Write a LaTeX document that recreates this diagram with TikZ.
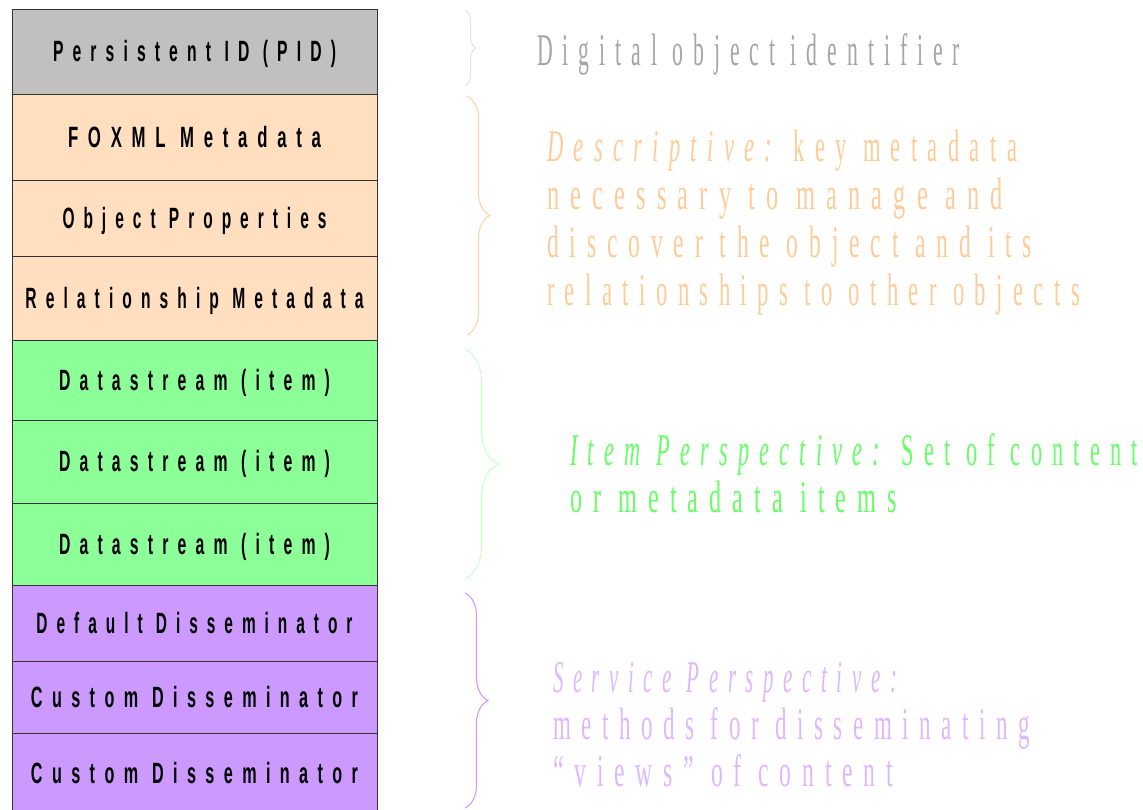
\documentclass[tikz,border=0pt]{standalone}
\usepackage{fontspec}
\usepackage{graphicx}
\usetikzlibrary{decorations.pathreplacing}
\newfontfamily\boxfont[FakeStretch=0.55,LetterSpace=32]{Liberation Sans}
\newfontfamily\descfont[FakeStretch=0.48,LetterSpace=22]{Liberation Serif}
\newdimen\fitlen
\newcommand\fitto[2]{\settowidth\fitlen{#2}\scalebox{\fpeval{#1*0.75/\fitlen}}[1]{#2}}
\definecolor{cgray}{HTML}{C0C0C0}
\definecolor{cpeach}{HTML}{FFDFC0}
\definecolor{cgreen}{HTML}{8CFF99}
\definecolor{cpurple}{HTML}{CC99FF}
\definecolor{tgray}{HTML}{A4A4AA}
\definecolor{tpeach}{HTML}{FFCC99}
\definecolor{tgreen}{HTML}{66FF66}
\definecolor{tpurple}{HTML}{DDB8FF}
\definecolor{bgray}{HTML}{E4E4E4}
\definecolor{bpeach}{HTML}{FFD3A8}
\definecolor{bgreen}{HTML}{CCFFCC}
\definecolor{bpurple}{HTML}{CC99FF}
\tikzset{
  boxst/.style={draw=black!80, line width=0.75pt, minimum width=273.75pt,
    inner sep=0pt, outer sep=0pt, anchor=north west,
    font=\boxfont\bfseries\fontsize{22pt}{22pt}\selectfont,
    text height=15pt, text depth=0pt},
  rt/.style={anchor=base west, inner sep=0pt, outer sep=0pt,
    font=\descfont\fontsize{34pt}{34pt}\selectfont},
  bracest/.style={decorate, line width=0.8pt},
}
\begin{document}
\begin{tikzpicture}[x=0.75pt,y=-0.75pt]
\useasboundingbox (0,0) rectangle (1143,810);
% stacked boxes
\node[boxst, fill=cgray,   minimum height=85*0.75pt] (pid) at (12,9)   {\fitto{283}{Persistent ID (PID)}};
\node[boxst, fill=cpeach,  minimum height=86*0.75pt] (fox) at (12,94)  {\fitto{253}{FOXML Metadata}};
\node[boxst, fill=cpeach,  minimum height=76*0.75pt] (op)  at (12,180) {\fitto{264}{Object Properties}};
\node[boxst, fill=cpeach,  minimum height=84*0.75pt] (rel) at (12,256) {\fitto{338}{Relationship Metadata}};
\node[boxst, fill=cgreen,  minimum height=80*0.75pt] (ds1) at (12,340) {\fitto{271}{Datastream (item)}};
\node[boxst, fill=cgreen,  minimum height=83*0.75pt] (ds2) at (12,420) {\fitto{271}{Datastream (item)}};
\node[boxst, fill=cgreen,  minimum height=82*0.75pt] (ds3) at (12,503) {\fitto{271}{Datastream (item)}};
\node[boxst, fill=cpurple, minimum height=76*0.75pt] (dd)  at (12,585) {\fitto{316}{Default Disseminator}};
\node[boxst, fill=cpurple, minimum height=72*0.75pt] (cd1) at (12,661) {\fitto{327}{Custom Disseminator}};
\node[boxst, fill=cpurple, minimum height=80*0.75pt] (cd2) at (12,733) {\fitto{327}{Custom Disseminator}};
% braces
\coordinate (g1) at (465,10);  \coordinate (g2) at (465,86);
\coordinate (p1) at (467,96);  \coordinate (p2) at (467,335);
\coordinate (e1) at (465,349); \coordinate (e2) at (465,579);
\coordinate (u1) at (465,593); \coordinate (u2) at (465,808);
\draw[bracest, bgray,   decoration={brace, amplitude=8.25pt}]  (g1) -- (g2);
\draw[bracest, bpeach,  decoration={brace, amplitude=17.25pt}] (p1) -- (p2);
\draw[bracest, bgreen,  decoration={brace, amplitude=24.75pt}] (e1) -- (e2);
\draw[bracest, bpurple, decoration={brace, amplitude=17.25pt}] (u1) -- (u2);
% descriptions
\node[rt, text=tgray] (dig) at (537,65) {\fitto{423}{Digital object identifier}};
\node[rt, text=tpeach] (de1) at (547,161) {\fitto{470}{\itshape Descriptive:\upshape{} key metadata}};
\node[rt, text=tpeach] (de2) at (547,209) {\fitto{456}{necessary to manage and}};
\node[rt, text=tpeach] (de3) at (547,257) {\fitto{485}{discover the object and its}};
\node[rt, text=tpeach] (de4) at (547,305) {\fitto{533}{relationships to other objects}};
\node[rt, text=tgreen] (it1) at (570,465) {\fitto{568}{\itshape Item Perspective:\upshape{} Set of content}};
\node[rt, text=tgreen] (it2) at (570,512) {\fitto{327}{or metadata items}};
\node[rt, text=tpurple] (sv1) at (553,692) {\fitto{344}{\itshape Service Perspective:}};
\node[rt, text=tpurple] (sv2) at (553,739) {\fitto{477}{methods for disseminating}};
\node[rt, text=tpurple] (sv3) at (553,786) {\fitto{340}{“views” of content}};
\end{tikzpicture}
\end{document}
